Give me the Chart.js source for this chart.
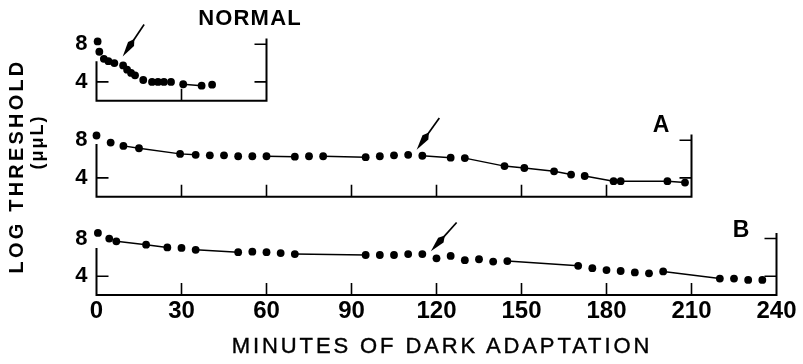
<!DOCTYPE html>
<html>
<head>
<meta charset="utf-8">
<script src="https://cdn.jsdelivr.net/npm/chart.js@4.4.1/dist/chart.umd.min.js"></script>
<style>
  body { margin: 0; background: #fff; }
  #wrap { position: relative; width: 803px; height: 364px; overflow: hidden; font-family: "Liberation Sans", Arial, sans-serif; color: #000; }
  canvas { position: absolute; left: 0; }
  .lbl { position: absolute; white-space: nowrap; line-height: 1; transform: translate(-50%, -50%); }
  .rot { transform: translate(-50%, -50%) rotate(-90deg); }
</style>
</head>
<body>
<div id="wrap">
  <canvas id="chartNormal" width="282" height="86" style="top:20px"></canvas>
  <canvas id="chartA" width="708" height="86" style="top:116px"></canvas>
  <canvas id="chartB" width="803" height="150" style="top:214px"></canvas>
  <div class="lbl" style="left:250px; top:18px; font-weight:bold; font-size:22px; letter-spacing:1.2px">NORMAL</div>
  <div class="lbl" style="left:661px; top:124px; font-weight:bold; font-size:23px">A</div>
  <div class="lbl" style="left:741px; top:229px; font-weight:bold; font-size:23px">B</div>
  <div class="lbl rot" style="left:16px; top:166px; font-weight:bold; font-size:20px; letter-spacing:3.2px">LOG THRESHOLD</div>
  <div class="lbl rot" style="left:37px; top:142px; font-weight:bold; font-size:18px; letter-spacing:2px">(μμL)</div>
  <div class="lbl" style="left:442px; top:346px; font-size:22px; letter-spacing:2.9px; -webkit-text-stroke:0.4px #000">MINUTES OF DARK ADAPTATION</div>
</div>
<script>
// dark adaptation curves, minutes vs log threshold
const normalMin = [0.4, 1.0, 2.6, 4.2, 6.3, 9.4, 10.8, 12.2, 13.6, 16.5, 19.6, 21.7, 23.8, 26.3, 30.6, 37.1, 40.8];
const normalLog = [8.3, 7.2, 6.45, 6.2, 6.0, 5.75, 5.3, 4.95, 4.7, 4.2, 4.0, 4.0, 4.0, 4.0, 3.75, 3.6, 3.7];

const aMin = [0, 5, 9.5, 15, 29.5, 35, 40, 45, 50, 55, 60, 70, 75, 80, 95, 100, 105, 110, 115, 125, 130, 144, 151, 161.5, 167.5, 172.3, 182.5, 185, 201.5, 207.7];
const aLog = [8.5, 7.75, 7.4, 7.15, 6.55, 6.45, 6.4, 6.4, 6.3, 6.3, 6.3, 6.25, 6.3, 6.3, 6.2, 6.3, 6.4, 6.45, 6.35, 6.15, 6.1, 5.25, 5.05, 4.7, 4.35, 4.2, 3.65, 3.65, 3.65, 3.5];

const bMin = [0.5, 4.5, 7, 17.5, 25, 30, 35, 50, 55, 60, 65, 70, 95, 100, 105, 110, 115, 120, 125, 130, 135, 140, 145, 170, 175, 180, 185, 190, 195, 200, 220, 225, 230, 235];
const bLog = [8.6, 8.0, 7.7, 7.35, 7.05, 7.0, 6.8, 6.55, 6.6, 6.55, 6.45, 6.35, 6.25, 6.25, 6.25, 6.35, 6.35, 5.9, 6.15, 5.7, 5.8, 5.55, 5.6, 5.1, 4.85, 4.65, 4.55, 4.4, 4.3, 4.5, 3.75, 3.75, 3.6, 3.6];

const xTicks = [0, 30, 60, 90, 120, 150, 180, 210, 240];
const yTicks = [4, 8];

// arrows: [minutes, log] of tail and tip
const arrowNormal = [[16.8, 10.1], [9.25, 6.7]];
const arrowA = [[121, 10.35], [113, 7.0]];
const arrowB = [[127.1, 9.7], [118, 6.65]];

const frame = {
  id: "frame",
  beforeDatasetsDraw(chart, args, o) {
    const ctx = chart.ctx;
    const x = chart.scales.x, y = chart.scales.y;
    const x0 = x.getPixelForValue(0), x1 = x.getPixelForValue(x.max);
    const yb = y.getPixelForValue(y.min);
    const tl = 12;
    ctx.save();
    ctx.strokeStyle = "#000";
    ctx.lineWidth = 2;
    ctx.beginPath();
    ctx.moveTo(x0, y.getPixelForValue(o.leftTop));
    ctx.lineTo(x0, yb);
    ctx.lineTo(x1, yb);
    ctx.lineTo(x1, y.getPixelForValue(o.rightTop));
    ctx.stroke();
    ctx.lineWidth = 1.6;
    ctx.beginPath();
    yTicks.forEach(v => {
      const py = y.getPixelForValue(v);
      if (v < o.leftTop) { ctx.moveTo(x0, py); ctx.lineTo(x0 + tl, py); }
      ctx.moveTo(x1, py); ctx.lineTo(x1 - tl, py);
    });
    xTicks.forEach(v => {
      if (v > 0 && v < x.max) {
        const px = x.getPixelForValue(v);
        ctx.moveTo(px, yb); ctx.lineTo(px, yb - tl);
      }
    });
    ctx.stroke();
    ctx.restore();
  },
  afterDatasetsDraw(chart, args, o) {
    const ctx = chart.ctx;
    const x = chart.scales.x, y = chart.scales.y;
    const ax = x.getPixelForValue(o.arrow[0][0]), ay = y.getPixelForValue(o.arrow[0][1]);
    const bx = x.getPixelForValue(o.arrow[1][0]), by = y.getPixelForValue(o.arrow[1][1]);
    const len = Math.hypot(bx - ax, by - ay);
    const ux = (bx - ax) / len, uy = (by - ay) / len;
    ctx.save();
    ctx.strokeStyle = "#000";
    ctx.fillStyle = "#000";
    ctx.lineWidth = 1.7;
    ctx.beginPath();
    ctx.moveTo(ax, ay);
    ctx.lineTo(bx - ux * 18, by - uy * 18);
    ctx.stroke();
    // long needle head
    ctx.beginPath();
    ctx.moveTo(bx, by);
    ctx.lineTo(bx - ux * 15 - uy * 3.6, by - uy * 15 + ux * 3.6);
    ctx.lineTo(bx - ux * 21, by - uy * 21);
    ctx.lineTo(bx - ux * 15 + uy * 3.6, by - uy * 15 - ux * 3.6);
    ctx.closePath();
    ctx.fill();
    ctx.restore();
  }
};

function panel(id, xs, ys, xMax, pad, xAxisH, leftTop, arrow) {
  return new Chart(document.getElementById(id), {
    type: "line",
    data: {
      datasets: [{
        data: xs.map((v, i) => ({ x: v, y: ys[i] })),
        borderColor: "#000",
        borderWidth: 1.5,
        pointRadius: 3.9,
        pointBackgroundColor: "#000",
        pointBorderWidth: 0,
        clip: false,
        segment: {
          borderColor: c => (xs[c.p1DataIndex] - xs[c.p0DataIndex] > 5.2 ? "#000" : "rgba(0,0,0,0)")
        }
      }]
    },
    options: {
      responsive: false,
      animation: false,
      layout: { padding: pad },
      plugins: {
        legend: { display: false },
        tooltip: { enabled: false },
        frame: { leftTop: leftTop, rightTop: 8.6, arrow: arrow }
      },
      scales: {
        x: {
          type: "linear", min: 0, max: xMax, display: xAxisH > 0,
          grid: { display: false, drawTicks: false },
          border: { display: false },
          afterBuildTicks: s => { s.ticks = xTicks.map(v => ({ value: v })); },
          afterFit: s => { s.height = xAxisH; s.paddingLeft = 0; s.paddingRight = 0; },
          ticks: { color: "#000", padding: 2, maxRotation: 0, font: { family: "Liberation Sans", size: 24, weight: "bold" } }
        },
        y: {
          min: 2, max: 8.8,
          grid: { display: false, drawTicks: false },
          border: { display: false },
          afterBuildTicks: s => { s.ticks = yTicks.map(v => ({ value: v })); },
          afterFit: s => { s.width = 96.5; s.paddingTop = 0; s.paddingBottom = 0; },
          ticks: { color: "#000", padding: 9, font: { family: "Liberation Sans", size: 22, weight: "bold" } }
        }
      }
    },
    plugins: [frame]
  });
}

panel("chartNormal", normalMin, normalLog, 60, { top: 16.7, right: 15.5, bottom: 5.3, left: 0 }, 0, 6.2, arrowNormal);
panel("chartA", aMin, aLog, 210, { top: 16.7, right: 16.5, bottom: 5.3, left: 0 }, 0, 7.6, arrowA);
panel("chartB", bMin, bLog, 240, { top: 17, right: 26.5, bottom: 0, left: 0 }, 69, 7.0, arrowB);
</script>
</body>
</html>
